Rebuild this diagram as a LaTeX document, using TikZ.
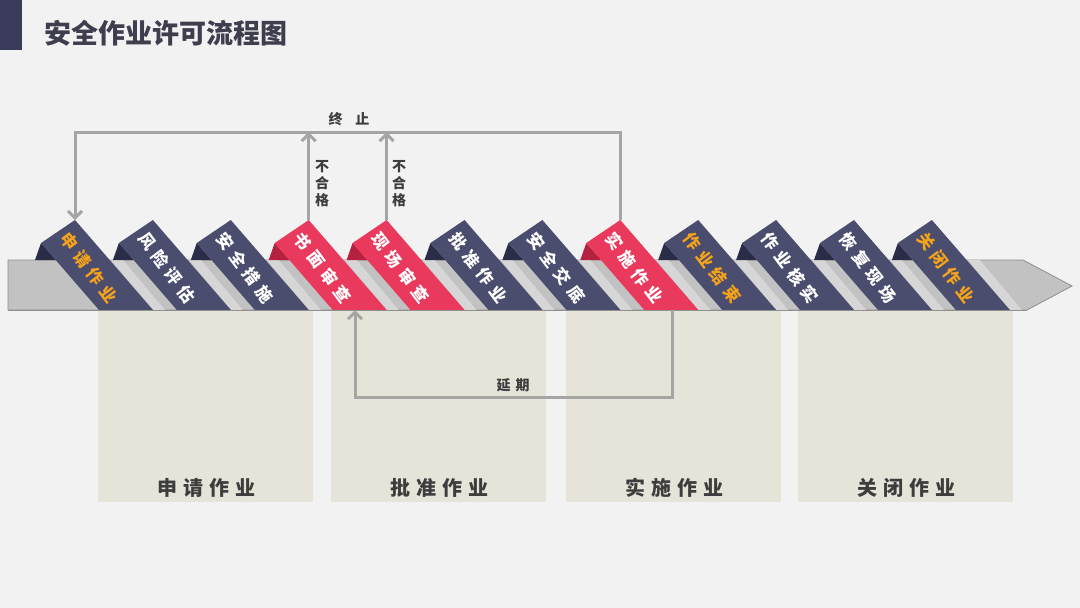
\documentclass[tikz,border=0pt]{standalone}
\usepackage{fontspec}
\setmainfont{Noto Sans CJK SC}
\newfontfamily\ribfont{Noto Sans CJK SC}[LetterSpace=33]
\newfontfamily\panfont{Noto Sans CJK SC}[LetterSpace=30]
\usetikzlibrary{arrows.meta}
\definecolor{bgc}{HTML}{F2F2F2}
\definecolor{barc}{HTML}{3B3C5C}
\definecolor{titlec}{HTML}{3E3E4E}
\definecolor{navyc}{HTML}{4B4D6F}
\definecolor{navyd}{HTML}{2B2D48}
\definecolor{redc}{HTML}{E93A5E}
\definecolor{redd}{HTML}{B5213F}
\definecolor{orangec}{HTML}{F5A31A}
\definecolor{panelc}{HTML}{E6E3D9}
\definecolor{bandc}{HTML}{C2C2C2}
\definecolor{bandl}{HTML}{D6D6D6}
\definecolor{bandd}{HTML}{8F8F8F}
\definecolor{connc}{HTML}{A5A5A5}
\definecolor{txtc}{HTML}{3D3D3D}
\tikzset{
  conn/.style={draw=connc, line width=3pt},
  tip/.style={-{Straight Barb[length=7pt,width=14pt]}},
  ribtext/.style={font=\ribfont\bfseries\fontsize{16.5}{16.5}\selectfont, inner sep=0pt},
  plabel/.style={font=\panfont\bfseries\fontsize{20}{20}\selectfont, text=txtc, inner sep=0pt},
  clabel/.style={font=\bfseries\fontsize{14}{17}\selectfont, text=txtc, inner sep=0pt, align=center}
}
\begin{document}
\begin{tikzpicture}[x=1pt,y=-1pt]
\useasboundingbox (0,0) rectangle (1080,608);
\fill[bgc] (0,0) rectangle (1080,608);
\fill[barc] (0,0) rectangle (22,50);
\node[anchor=west, font=\bfseries\fontsize{27}{27}\selectfont, text=titlec, inner sep=0pt] (title) at (44,33) {安全作业许可流程图};
% panels
\foreach \x/\lbl/\n in {98/申请作业/p1, 331/批准作业/p2, 566/实施作业/p3, 798/关闭作业/p4}{
  \fill[panelc] (\x,310) rectangle ++(215,192);
  \node[plabel] (\n) at (\x+108,488) {\lbl};
}
% band
\fill[bandc, draw=bandd, line width=0.8pt] (8,260) -- (1023,260) -- (1072,286) -- (1027,310) -- (8,310) -- cycle;
% ribbons
\foreach \i/\lbl/\fc/\dc/\tc in {0/申请作业/navyc/navyd/orangec, 1/风险评估/navyc/navyd/white, 2/安全措施/navyc/navyd/white, 3/书面审查/redc/redd/white, 4/现场审查/redc/redd/white, 5/批准作业/navyc/navyd/white, 6/安全交底/navyc/navyd/white, 7/实施作业/redc/redd/white, 8/作业结束/navyc/navyd/orangec, 9/作业核实/navyc/navyd/white, 10/恢复现场/navyc/navyd/white, 11/关闭作业/navyc/navyd/orangec}{
  \pgfmathsetmacro\xo{75+77.9*\i}
  \fill[bandl] (\xo+78,310) -- (\xo+36,260) -- (\xo+48,260) -- (\xo+90,310) -- cycle;
  \fill[\dc] (\xo-34,243) -- (\xo-40,260) -- (\xo-19,260) -- cycle;
  \fill[\fc] (\xo,220) -- (\xo+78,310) -- (\xo+24,310) -- (\xo-34,243) -- cycle;
  \node[ribtext, text=\tc, rotate=-53] (r\i) at (\xo+14,268) {\lbl};
  \coordinate (rt\i) at (\xo,220);
}
\draw[bandd, line width=0.8pt] (8,310) -- (1027,310);
% connectors
\coordinate (rb3) at (355,310);
\coordinate (rb7) at (672,310);
\coordinate (stopL) at (rt0 |- 0,132);
\coordinate (stopR) at (rt7 |- 0,132);
\coordinate (delR) at (672,397);
\coordinate (delL) at (355,397);
\draw[conn, tip] (rt7) -- (stopR) -- (stopL) -- (rt0);
\draw[conn, tip] (rt3) -- (rt3 |- stopL);
\draw[conn, tip] (rt4) -- (rt4 |- stopL);
\draw[conn, tip] (rb7) -- (delR) -- (delL) -- (rb3);
\node[clabel] (stoplbl) at (349,119) {终\hspace{13pt}止};
\node[clabel] (nq1) at (322,184) {不\\合\\格};
\node[clabel] (nq2) at (399,184) {不\\合\\格};
\node[clabel] (dellbl) at (513,385) {延\hspace{5pt}期};
\end{tikzpicture}
\end{document}
